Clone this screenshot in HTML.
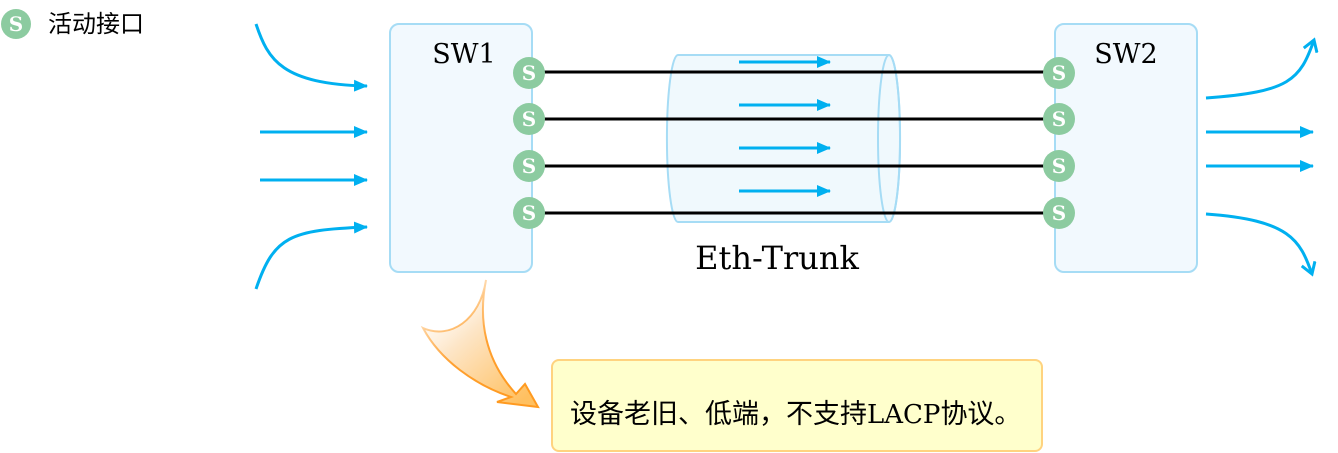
<!DOCTYPE html>
<html><head><meta charset="utf-8"><style>
html,body{margin:0;padding:0;background:#fff;}
svg{display:block;}
.s{font-family:"DejaVu Serif","Liberation Serif",serif;}
.c{font-family:"Liberation Sans","Noto Sans CJK SC",sans-serif;}
</style></head><body>
<svg width="1338" height="453" viewBox="0 0 1338 453" xmlns="http://www.w3.org/2000/svg">
<defs>
<marker id="ah" markerWidth="14" markerHeight="12" refX="13" refY="6" orient="auto" markerUnits="userSpaceOnUse"><path d="M0,0 L14,6 L0,12 Z" fill="#00b0f0"/></marker>
<marker id="av" markerWidth="16" markerHeight="16" refX="12" refY="8" orient="auto" markerUnits="userSpaceOnUse"><path d="M1,1 L12,8 L1,15" fill="none" stroke="#00b0f0" stroke-width="3"/></marker>
<linearGradient id="og" x1="0" y1="0" x2="0.8" y2="1"><stop offset="0" stop-color="#fff" stop-opacity="0"/><stop offset="0.45" stop-color="#fde6c8"/><stop offset="1" stop-color="#ffc060"/></linearGradient>
<linearGradient id="os" x1="0" y1="0" x2="0.6" y2="1"><stop offset="0" stop-color="#ffa030" stop-opacity="0"/><stop offset="0.6" stop-color="#ffa030"/><stop offset="1" stop-color="#ff9a20"/></linearGradient>
</defs>
<circle cx="16" cy="24" r="15" fill="#8ccba0"/>
<text x="16" y="31" text-anchor="middle" class="s" font-size="20" font-weight="bold" fill="#fff">S</text>
<text x="48" y="32" class="c" font-size="24" fill="#000">活动接口</text>
<g stroke="#00b0f0" stroke-width="3" fill="none">
<path d="M256,24 C268,60 282,84 367,86" marker-end="url(#ah)"/>
<line x1="260" y1="132" x2="367" y2="132" marker-end="url(#ah)"/>
<line x1="260" y1="180" x2="367" y2="180" marker-end="url(#ah)"/>
<path d="M256,289 C274,236 290,230 367,227" marker-end="url(#ah)"/>
<path d="M1206,98 C1290,92 1300,80 1314,40" marker-end="url(#av)"/>
<line x1="1206" y1="132" x2="1313" y2="132" marker-end="url(#ah)"/>
<line x1="1206" y1="166" x2="1313" y2="166" marker-end="url(#ah)"/>
<path d="M1206,214 C1290,220 1300,240 1312,274" marker-end="url(#av)"/>
</g>
<rect x="390" y="24" width="142" height="248" rx="9" fill="#f2f9fe" stroke="#a6dcf5" stroke-width="2"/>
<rect x="1055" y="24" width="142" height="248" rx="9" fill="#f2f9fe" stroke="#a6dcf5" stroke-width="2"/>
<text x="464" y="63" text-anchor="middle" class="s" font-size="27">SW1</text>
<text x="1126" y="63" text-anchor="middle" class="s" font-size="27">SW2</text>
<path d="M678,55 L889,55 A11,83 0 0 1 889,222 L678,222 A11,83 0 0 1 678,55 Z" fill="#eef8fd" fill-opacity="0.9" stroke="#a6dcf5" stroke-width="2"/>
<ellipse cx="889" cy="138.5" rx="11" ry="83.5" fill="none" stroke="#a6dcf5" stroke-width="2"/>
<g stroke="#00b0f0" stroke-width="3">
<line x1="739" y1="62" x2="830" y2="62" marker-end="url(#ah)"/>
<line x1="739" y1="105" x2="830" y2="105" marker-end="url(#ah)"/>
<line x1="739" y1="148" x2="830" y2="148" marker-end="url(#ah)"/>
<line x1="739" y1="191" x2="830" y2="191" marker-end="url(#ah)"/>
</g>
<g stroke="#000" stroke-width="3">
<line x1="540" y1="72" x2="1050" y2="72"/>
<line x1="540" y1="119" x2="1050" y2="119"/>
<line x1="540" y1="166" x2="1050" y2="166"/>
<line x1="540" y1="213" x2="1050" y2="213"/>
</g>
<g fill="#8ccba0">
<circle cx="529" cy="73" r="16"/><circle cx="529" cy="119" r="16"/><circle cx="529" cy="166" r="16"/><circle cx="529" cy="213" r="16"/>
<circle cx="1059" cy="73" r="16"/><circle cx="1059" cy="119" r="16"/><circle cx="1059" cy="166" r="16"/><circle cx="1059" cy="213" r="16"/>
</g>
<g class="s" font-size="20" font-weight="bold" fill="#fff" text-anchor="middle">
<text x="529" y="80">S</text><text x="529" y="126">S</text><text x="529" y="173">S</text><text x="529" y="220">S</text>
<text x="1059" y="80">S</text><text x="1059" y="126">S</text><text x="1059" y="173">S</text><text x="1059" y="220">S</text>
</g>
<text x="777" y="269" text-anchor="middle" class="s" font-size="32">Eth-Trunk</text>
<path d="M486,280 C478,320 485,360 516,394 L525,384 L538,407 L497,402 L511,397 C475,385 440,360 423,328 C450,340 480,320 486,280 Z" fill="url(#og)" stroke="url(#os)" stroke-width="2"/>
<rect x="552" y="360" width="490" height="91" rx="7" fill="#ffffcc" stroke="#ffd37f" stroke-width="2"/>
<text x="570" y="423" class="c" font-size="27" fill="#000">设备老旧、低端，不支持<tspan class="s" font-size="26">LACP</tspan>协议。</text>
</svg>
</body></html>
